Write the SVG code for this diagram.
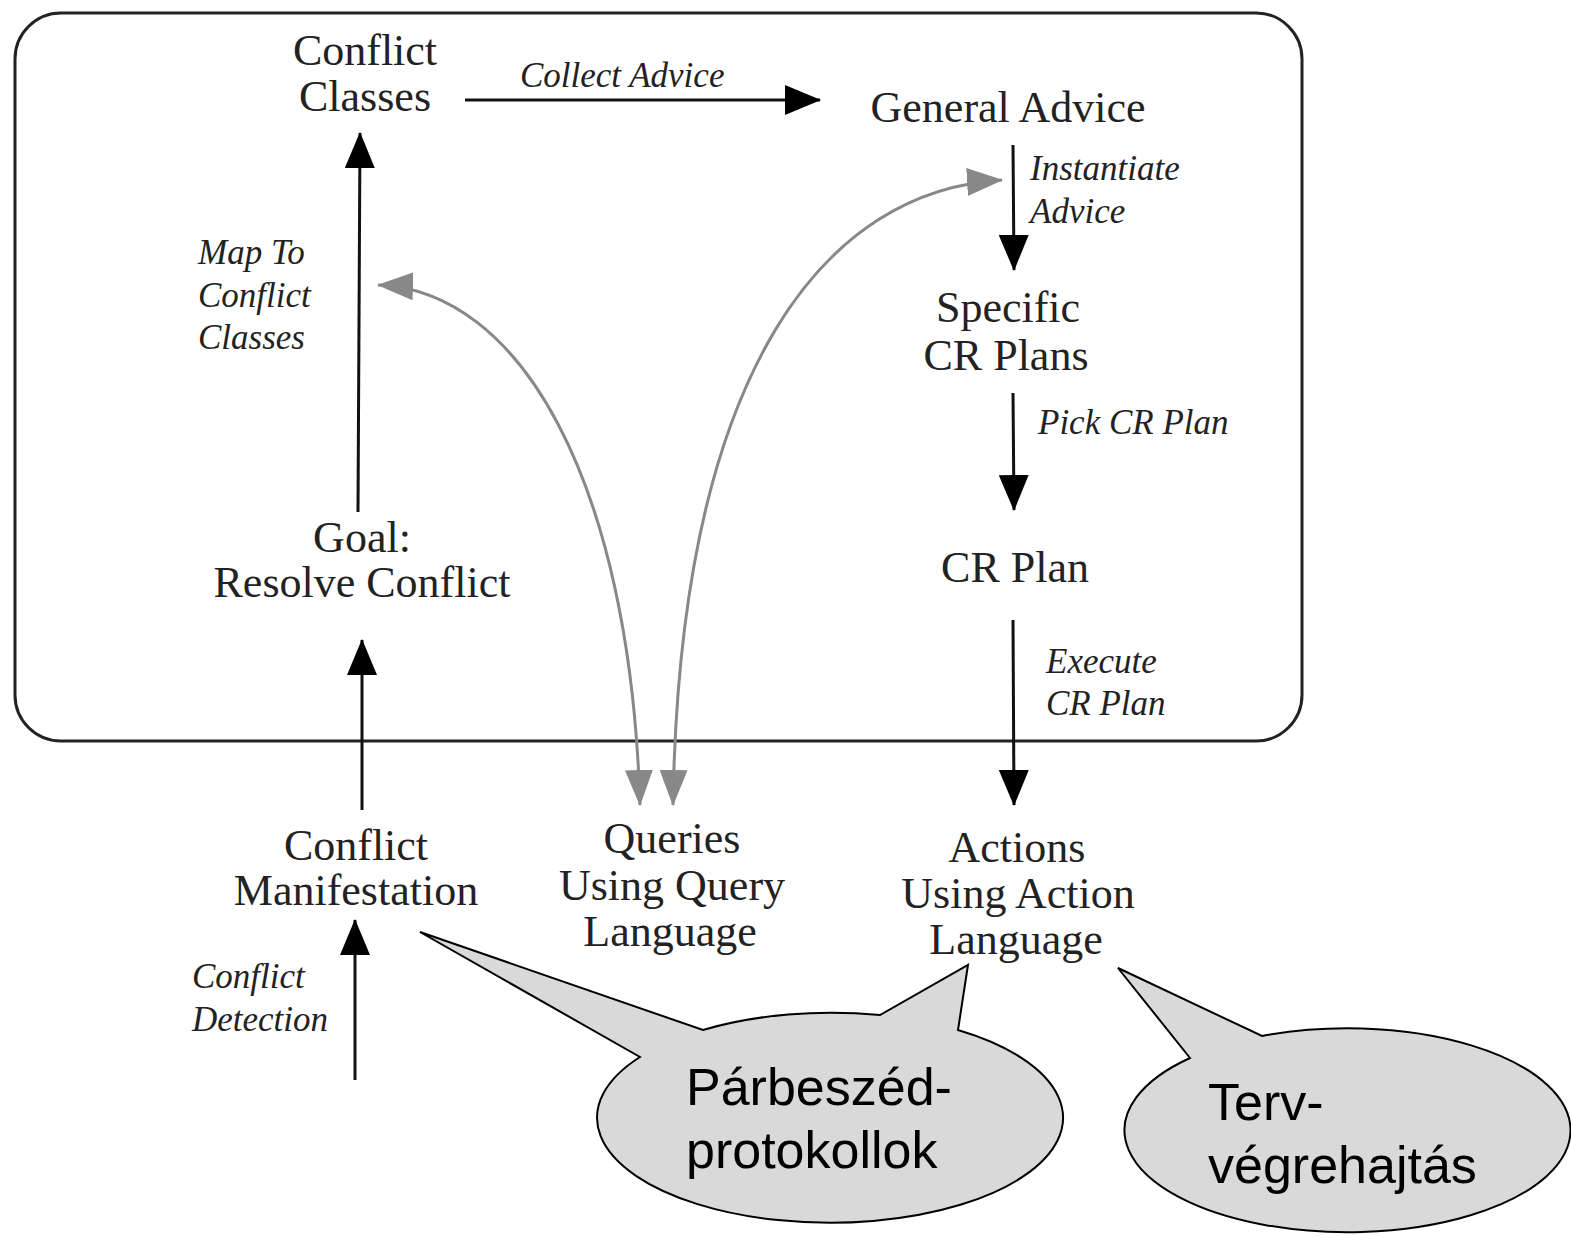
<svg xmlns="http://www.w3.org/2000/svg" width="1571" height="1236" viewBox="0 0 1571 1236">
  <style>
    .node { font-family: "Liberation Serif", "Times New Roman", serif; font-size: 44px; fill: #222; text-anchor: middle; }
    .lbl { font-family: "Liberation Serif", "Times New Roman", serif; font-size: 35px; font-style: italic; fill: #222; }
    .edge { fill: none; stroke: #111; stroke-width: 3; }
    .qedge { fill: none; stroke: #888; stroke-width: 3; }
    .bubble { fill: #d9d9d9; stroke: #000; stroke-width: 2; }
    .btext { font-family: "Liberation Sans", Arial, sans-serif; font-size: 52px; fill: #000; }
  </style>
  <defs>
    <marker id="head" viewBox="0 0 36 30" refX="35" refY="15" markerWidth="36" markerHeight="30" markerUnits="userSpaceOnUse" orient="auto">
      <path d="M0,0 L36,15 L0,30 z" fill="#000"/>
    </marker>
    <marker id="ghead" viewBox="0 0 36 28" refX="35" refY="14" markerWidth="36" markerHeight="28" markerUnits="userSpaceOnUse" orient="auto-start-reverse">
      <path d="M0,0 L36,14 L0,28 z" fill="#888"/>
    </marker>
  </defs>

  <rect width="1571" height="1236" fill="#fff"/>

  <!-- agent boundary -->
  <rect id="frame" x="15" y="13" width="1287" height="728" rx="46" ry="46" fill="none" stroke="#222" stroke-width="3"/>

  <!-- connectors -->
  <g id="connectors">
    <path class="edge" d="M465,100 L820,100" marker-end="url(#head)"/>
    <path class="edge" d="M1013,145 L1014,270" marker-end="url(#head)"/>
    <path class="edge" d="M1013,393 L1014,510" marker-end="url(#head)"/>
    <path class="edge" d="M1013,620 L1014,805" marker-end="url(#head)"/>
    <path class="edge" d="M358,512 L360,133" marker-end="url(#head)"/>
    <path class="edge" d="M362,810 L362,640" marker-end="url(#head)"/>
    <path class="edge" d="M355,1080 L355,920" marker-end="url(#head)"/>
    <path class="qedge" d="M378,285 C520,290 630,480 640,805" marker-start="url(#ghead)" marker-end="url(#ghead)"/>
    <path class="qedge" d="M1002,180 C830,190 680,360 673,805" marker-start="url(#ghead)" marker-end="url(#ghead)"/>
  </g>

  <!-- edge labels -->
  <g id="edge-labels">
    <text class="lbl" x="520" y="87">Collect Advice</text>
    <text class="lbl" x="1030" y="180">Instantiate</text>
    <text class="lbl" x="1030" y="223">Advice</text>
    <text class="lbl" x="1038" y="434">Pick CR Plan</text>
    <text class="lbl" x="1046" y="673">Execute</text>
    <text class="lbl" x="1046" y="715">CR Plan</text>
    <text class="lbl" x="198" y="264">Map To</text>
    <text class="lbl" x="198" y="307">Conflict</text>
    <text class="lbl" x="198" y="349">Classes</text>
    <text class="lbl" x="192" y="988">Conflict</text>
    <text class="lbl" x="192" y="1031">Detection</text>
  </g>

  <!-- nodes -->
  <g id="conflict-classes">
    <text class="node" x="365" y="65">Conflict</text>
    <text class="node" x="365" y="111">Classes</text>
  </g>
  <g id="general-advice">
    <text class="node" x="1008" y="122">General Advice</text>
  </g>
  <g id="specific-cr-plans">
    <text class="node" x="1008" y="322">Specific</text>
    <text class="node" x="1006" y="370">CR Plans</text>
  </g>
  <g id="cr-plan">
    <text class="node" x="1015" y="582">CR Plan</text>
  </g>
  <g id="goal">
    <text class="node" x="362" y="552">Goal:</text>
    <text class="node" x="362" y="597">Resolve Conflict</text>
  </g>
  <g id="conflict-manifestation">
    <text class="node" x="356" y="860">Conflict</text>
    <text class="node" x="356" y="905">Manifestation</text>
  </g>
  <g id="queries">
    <text class="node" x="672" y="853">Queries</text>
    <text class="node" x="672" y="900">Using Query</text>
    <text class="node" x="670" y="946">Language</text>
  </g>
  <g id="actions">
    <text class="node" x="1017" y="862">Actions</text>
    <text class="node" x="1018" y="908">Using Action</text>
    <text class="node" x="1016" y="954">Language</text>
  </g>

  <!-- callouts -->
  <g id="callout-dialogue">
    <path class="bubble" d="M640,1057 L420,932 L703,1030 A233,105 0 0 1 880,1015 L968,965 L958,1030 A233,105 0 1 1 640,1057 Z"/>
    <text class="btext" x="686" y="1105">Párbeszéd-</text>
    <text class="btext" x="686" y="1168">protokollok</text>
  </g>
  <g id="callout-execution">
    <path class="bubble" d="M1190,1058 L1118,968 L1262,1036 A223,102 0 1 1 1190,1058 Z"/>
    <text class="btext" x="1208" y="1120">Terv-</text>
    <text class="btext" x="1208" y="1183">végrehajtás</text>
  </g>
</svg>
